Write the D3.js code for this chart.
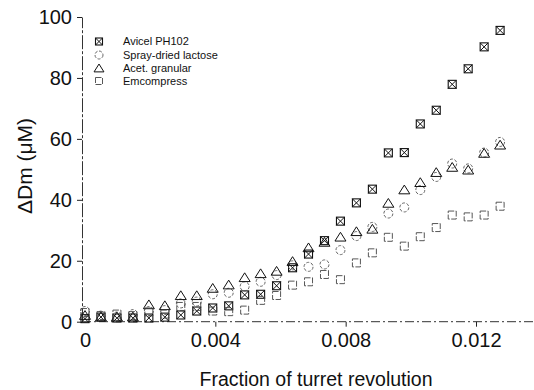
<!DOCTYPE html>
<html>
<head>
<meta charset="utf-8">
<script src="https://cdn.jsdelivr.net/npm/d3@7/dist/d3.min.js"></script>
<style>
  html, body { margin: 0; padding: 0; background: #fff; }
  svg { display: block; }
  text { font-family: "Liberation Sans", Arial, Helvetica, sans-serif; fill: #111; }
</style>
</head>
<body>
<script>
// Fraction of turret revolution at which each measurement was taken
const fraction = [0, 0.00049, 0.00098, 0.00147, 0.00196, 0.00245, 0.00294, 0.00343, 0.00392,
  0.00441, 0.0049, 0.00539, 0.00588, 0.00637, 0.00686, 0.00735, 0.00784, 0.00833, 0.00882,
  0.00931, 0.0098, 0.01029, 0.01078, 0.01127, 0.01176, 0.01225, 0.01274];

// Change in mean diameter (µM) for each excipient
const avicel = [1.0, 1.5, 1.2, 1.2, 1.2, 1.5, 2.2, 3.5, 4.5, 5.2, 8.8, 9.0, 11.8, 17.7, 22.2,
  26.6, 33.0, 39.0, 43.5, 55.4, 55.5, 64.9, 69.4, 77.9, 83.0, 90.2, 95.6];
const sprayDried = [3.5, 2.0, 1.7, 2.5, 3.5, 3.8, 6.0, 6.6, 9.0, 9.5, 11.6, 13.1, 15.3, 18.5, 18.0,
  18.8, 23.5, 28.1, 31.1, 35.5, 37.5, 43.2, 47.5, 51.9, 50.3, 55.5, 59.0];
const acetGranular = [2.0, 1.5, 1.5, 1.5, 5.5, 5.2, 8.5, 8.5, 10.9, 12.0, 14.4, 15.7, 16.5, 19.7, 24.2,
  26.0, 27.7, 29.5, 30.3, 38.8, 43.2, 45.6, 48.9, 50.6, 49.7, 55.2, 57.9];
const emcompress = [3.0, 2.0, 2.5, 2.0, 3.2, 2.5, 5.0, 5.0, 3.5, 3.3, 3.8, 7.0, 8.6, 12.0, 13.1,
  15.5, 13.8, 19.3, 22.6, 27.7, 24.8, 27.9, 30.9, 35.0, 34.4, 35.0, 37.9];

const seriesNames = ["Avicel PH102", "Spray-dried lactose", "Acet. granular", "Emcompress"];
const xTickValues = [0, 0.004, 0.008, 0.012];
const xTickLabels = ["0", "0.004", "0.008", "0.012"];
const yTickValues = [0, 20, 40, 60, 80, 100];
const yTickLabels = ["0", "20", "40", "60", "80", "100"];

const W = 534, H = 390;
const svg = d3.select("body").append("svg").attr("width", W).attr("height", H);

const x = d3.scaleLinear().domain([0, 0.012]).range([85, 476]);
const y = d3.scaleLinear().domain([0, 100]).range([321.7, 17]);
const axisX0 = 82;

// marker shapes
function drawMarker(g, kind, s) {
  const h = s / 2;
  if (kind === "xsquare") {
    g.append("rect").attr("x", -h).attr("y", -h).attr("width", s).attr("height", s)
      .attr("fill", "none").attr("stroke", "#111").attr("stroke-width", 1.1);
    g.append("path").attr("d", `M${-h},${-h}L${h},${h}M${h},${-h}L${-h},${h}`)
      .attr("stroke", "#111").attr("stroke-width", 1);
  } else if (kind === "circle") {
    g.append("circle").attr("r", h + 0.5).attr("fill", "none")
      .attr("stroke", "#555").attr("stroke-width", 0.9).attr("stroke-dasharray", "3,1.6");
  } else if (kind === "triangle") {
    const t = h + 1;
    g.append("path").attr("d", `M0,${-t}L${t * 1.1},${t * 0.75}L${-t * 1.1},${t * 0.75}Z`)
      .attr("fill", "none").attr("stroke", "#111").attr("stroke-width", 1);
  } else {
    g.append("rect").attr("x", -h).attr("y", -h).attr("width", s).attr("height", s)
      .attr("fill", "none").attr("stroke", "#444").attr("stroke-width", 0.9)
      .attr("stroke-dasharray", "6,1.5");
  }
}

const series = [
  { name: seriesNames[0], values: avicel, kind: "xsquare" },
  { name: seriesNames[1], values: sprayDried, kind: "circle" },
  { name: seriesNames[2], values: acetGranular, kind: "triangle" },
  { name: seriesNames[3], values: emcompress, kind: "square" }
];

// axes
const xAxis = d3.axisBottom(x).tickValues(xTickValues)
  .tickFormat((d, i) => xTickLabels[i]).tickSize(5).tickSizeOuter(0).tickPadding(6);
const gx = svg.append("g").attr("transform", `translate(0,${y(0)})`).call(xAxis);
gx.select(".domain").remove();
gx.selectAll(".tick line").attr("stroke", "#222").attr("stroke-width", 1)
  .filter(d => d === 0).remove();
gx.selectAll(".tick text").attr("font-size", 20).attr("fill", "#111")
  .attr("font-family", "Liberation Sans, Arial, sans-serif");
gx.append("line").attr("x1", axisX0).attr("x2", W).attr("y1", 0).attr("y2", 0)
  .attr("stroke", "#333").attr("stroke-width", 1).attr("stroke-dasharray", "9,3,2,3");

const yAxis = d3.axisLeft(y).tickValues(yTickValues)
  .tickFormat((d, i) => yTickLabels[i]).tickSize(5).tickSizeOuter(0).tickPadding(5);
const gy = svg.append("g").attr("transform", `translate(${axisX0},0)`).call(yAxis);
gy.select(".domain").attr("stroke", "#333").attr("stroke-width", 1)
  .attr("stroke-dasharray", "14,2,3,2");
gy.selectAll(".tick line").attr("stroke", "#222").attr("stroke-width", 1);
gy.selectAll(".tick text").attr("font-size", 20).attr("fill", "#111")
  .attr("font-family", "Liberation Sans, Arial, sans-serif");

// axis titles
svg.append("text").attr("x", 316).attr("y", 386).attr("text-anchor", "middle")
  .attr("font-size", 19.5).text("Fraction of turret revolution");
svg.append("text").attr("transform", "translate(32,166) rotate(-90)")
  .attr("text-anchor", "middle").attr("font-size", 21).text("\u0394Dm (\u03bcM)");

// data points
const plot = svg.append("g");
series.forEach(s => {
  plot.append("g").selectAll("g").data(s.values).join("g")
    .attr("transform", (d, i) => `translate(${x(fraction[i])},${y(d)})`)
    .each(function () { drawMarker(d3.select(this), s.kind, 8); });
});

// legend
const legend = svg.append("g");
const legendRows = [41.5, 55, 68.5, 81];
series.forEach((s, i) => {
  const g = legend.append("g").attr("transform", `translate(99,${legendRows[i]})`);
  drawMarker(g, s.kind, 7);
  legend.append("text").attr("x", 123).attr("y", legendRows[i]).attr("dy", "0.35em")
    .attr("font-size", 11).text(s.name);
});
</script>
</body>
</html>
